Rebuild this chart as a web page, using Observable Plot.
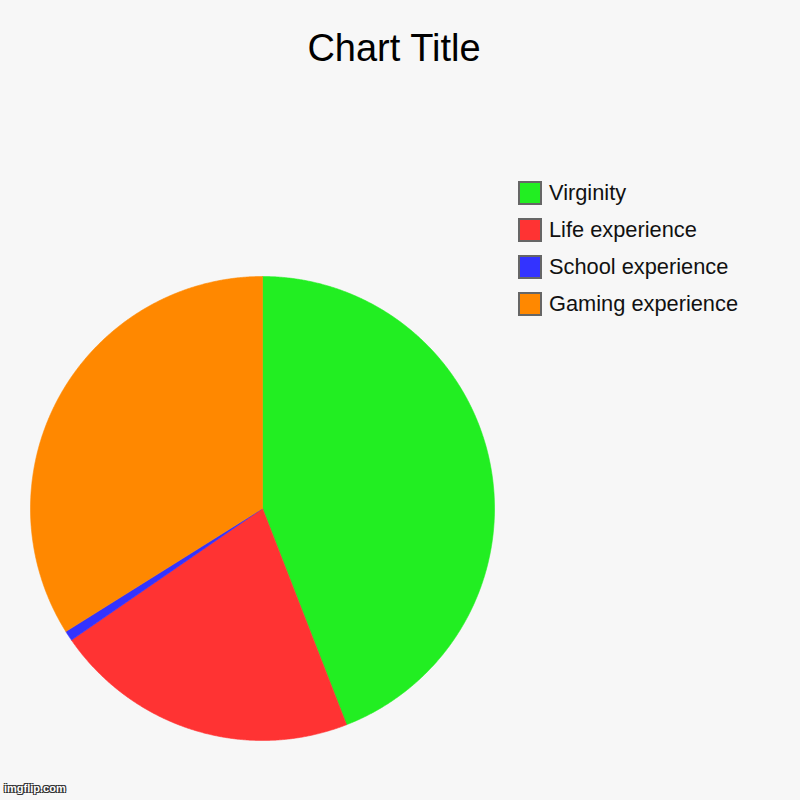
<!DOCTYPE html>
<html>
<head>
<meta charset="utf-8">
<script src="https://cdn.jsdelivr.net/npm/d3@7"></script>
<script src="https://cdn.jsdelivr.net/npm/@observablehq/plot@0.6"></script>
<style>
  html, body { margin: 0; padding: 0; background: #f7f7f7; }
  #wrap { position: relative; width: 800px; height: 800px; background: #f7f7f7; font-family: "Liberation Sans", Arial, sans-serif; overflow: hidden; }
  #wrap svg { position: absolute; left: 0; top: 0; }
  #title { position: absolute; left: 0; width: 788px; top: 26px; text-align: center; font-size: 38px; color: #000; line-height: 44px; }
  .lg { position: absolute; left: 518px; height: 24px; display: flex; align-items: center; white-space: nowrap; }
  .sw { width: 20px; height: 20px; border: 2px solid #666; box-sizing: content-box; }
  .lt { margin-left: 7px; font-size: 21.8px; color: #111; line-height: 24px; }
  #wm { position: absolute; left: 4px; top: 782px; font-size: 11px; font-weight: bold; color: #fff; text-shadow: -1px -1px 0 #333, 1px -1px 0 #333, -1px 1px 0 #333, 1px 1px 0 #333; }
</style>
</head>
<body>
<div id="wrap">
  <div id="title">Chart Title</div>
  <div id="wm">imgflip.com</div>
</div>
<script>
const categories = ["Virginity", "Life experience", "School experience", "Gaming experience"];
const values = [44.1, 21.3, 0.7, 33.9];
const colors = ["#22ee22", "#ff3333", "#3333ff", "#ff8800"];

const arcs = d3.pie().sort(null).value(d => d.value)(categories.map((c, i) => ({label: c, value: values[i]})));
const pts = [];
arcs.forEach((a, k) => {
  const label = a.data.label;
  pts.push({label, order: k, x: 0, y: 0});
  const n = Math.max(2, Math.ceil((a.endAngle - a.startAngle) / (Math.PI / 720)));
  for (let j = 0; j <= n; j++) {
    const t = a.startAngle + (a.endAngle - a.startAngle) * j / n;
    pts.push({label, order: k, x: Math.sin(t), y: Math.cos(t)});
  }
  pts.push({label, order: k, x: 0, y: 0});
});

const chart = Plot.plot({
  width: 800,
  height: 800,
  margin: 0,
  style: {background: "transparent"},
  x: {domain: [-1, 1], range: [30, 494], axis: null},
  y: {domain: [-1, 1], range: [740, 276], axis: null},
  color: {domain: categories, range: colors, legend: false},
  marks: [
    Plot.line(pts, {x: "x", y: "y", z: "label", fill: "label", stroke: "label", strokeWidth: 0.6, curve: "linear-closed"})
  ]
});
const wrap = document.getElementById("wrap");
wrap.insertBefore(chart, wrap.firstChild);

categories.forEach((c, i) => {
  const row = document.createElement("div");
  row.className = "lg";
  row.style.top = (181 + i * 37) + "px";
  const sw = document.createElement("div");
  sw.className = "sw";
  sw.style.background = colors[i];
  const lt = document.createElement("div");
  lt.className = "lt";
  lt.textContent = c;
  row.appendChild(sw);
  row.appendChild(lt);
  wrap.appendChild(row);
});
</script>
</body>
</html>
